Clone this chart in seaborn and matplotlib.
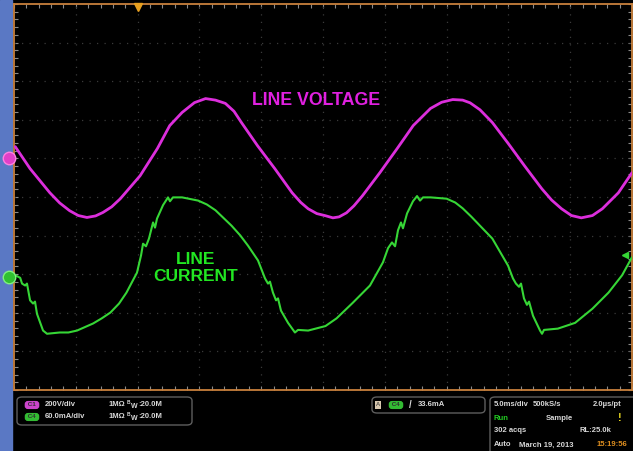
import matplotlib
matplotlib.use("Agg")
import matplotlib.pyplot as plt
import matplotlib.transforms as mtransforms
from matplotlib.patches import Rectangle, FancyBboxPatch
import numpy as np
import pandas as pd
import seaborn as sns

# ch1: line voltage (ms, V)
volt_t = [-24.9, -23.7, -22.1, -21.3, -20.5, -19.8, -19.1, -18.4, -17.8, -17.1,
          -16.4, -14.8, -13.4, -12.4, -11.4, -10.4, -9.5, -8.7, -7.9, -7.2,
          -6.6, -5.3, -3.9, -2.5, -1.8, -1.2, -0.5, 0.2, 0.8, 1.3,
          1.9, 2.5, 3.2, 4.6, 6.0, 7.3, 8.7, 9.6, 10.5, 11.3,
          11.9, 12.7, 13.7, 15.0, 16.3, 17.7, 18.5, 19.3, 20.1, 20.9,
          21.8, 22.6, 23.9, 25.0]
volt_v = [57, -57, -182, -235, -275, -300, -310, -302, -284, -255,
          -213, -94, 47, 166, 234, 285, 306, 298, 281, 240,
          182, 62, -57, -182, -232, -265, -290, -301, -312, -307,
          -286, -250, -197, -78, 47, 166, 255, 287, 301, 298,
          284, 248, 182, 72, -42, -161, -220, -265, -300, -312,
          -300, -265, -182, -78]

# ch4: line current (ms, mA)
curr_t = [-24.9, -24.5, -24.35, -24.1, -23.95, -23.7, -23.46, -23.3, -23.14, -22.65,
          -22.33, -21.3, -20.6, -19.9, -18.6, -17.9, -17.2, -16.5, -15.9, -15.05,
          -14.72, -14.56, -14.32, -14.08, -13.75, -13.59, -13.43, -12.94, -12.54, -12.38,
          -12.14, -11.4, -10.1, -9.4, -8.7, -7.4, -6.7, -6.07, -5.26, -4.69,
          -4.45, -4.29, -4.05, -3.8, -3.64, -3.4, -2.83, -2.27, -2.02, -1.2,
          0.2, 1.1, 2.4, 3.8, 4.85, 5.26, 5.58, 5.83, 6.07, 6.31,
          6.47, 6.8, 7.28, 7.61, 7.85, 8.09, 8.7, 10.0, 10.7, 11.3,
          12.0, 12.7, 13.7, 14.97, 15.37, 15.61, 15.86, 16.02, 16.26, 16.5,
          16.67, 16.99, 17.56, 17.72, 17.88, 19.0, 20.4, 21.8, 23.1, 24.2,
          25.0]
curr_ma = [2, -2, -11, -14, -11, -37, -42, -39, -58, -84,
           -89, -87, -87, -84, -73, -65, -56, -42, -25, 6,
           33, 51, 47, 59, 84, 76, 90, 111, 123, 117,
           123, 123, 118, 112, 103, 79, 64, 48, 25, -3,
           -11, -8, -25, -37, -34, -53, -72, -87, -83, -84,
           -77, -65, -41, -14, 22, 44, 53, 47, 72, 84,
           75, 98, 117, 125, 118, 123, 123, 121, 115, 106,
           93, 79, 59, 17, -3, -11, -16, -11, -34, -44,
           -39, -61, -84, -89, -83, -81, -72, -50, -25, 2,
           30]

V_PER_DIV = 200
MA_PER_DIV = 60
V_POS = 1.02
I_POS = -2.06
TRIG_MA = 33.6

sns.set_style("dark")
plt.rcParams['font.family'] = ['Liberation Sans', 'DejaVu Sans']

W, H = 633, 451
def fx(x): return x / W
def fy(y): return 1 - y / H

fig = plt.figure(figsize=(W / 100, H / 100), dpi=100, facecolor='black')
fig.add_artist(Rectangle((0, 0), fx(12), 1, transform=fig.transFigure,
                         color='#5a78c4', zorder=0))

ax = fig.add_axes([fx(14), fy(390), (632 - 14) / W, (390 - 4) / H])
ax.set_facecolor('black')
ax.set_xlim(-25, 25)
ax.set_ylim(-5, 5)

# graticule
for k in range(-4, 5):
    ax.axvline(k * 5, color='#3a3a3a', lw=0.9, ls=(0, (1, 5)), zorder=1)
    ax.axhline(k, color='#3a3a3a', lw=0.9, ls=(0, (1, 5)), zorder=1)
ax.grid(False)
ax.set_xticks(np.arange(-25, 25.01, 1))
ax.set_yticks(np.arange(-5, 5.01, 0.2))
ax.set_xticklabels([])
ax.set_yticklabels([])
ax.tick_params(direction='in', length=3, width=0.8, color='#8a8a8a',
               top=True, right=True, bottom=True, left=True)
for s in ax.spines.values():
    s.set_color('#c8803c')
    s.set_linewidth(1.3)

dv = pd.DataFrame({'t': volt_t, 'div': np.array(volt_v) / V_PER_DIV + V_POS})
di = pd.DataFrame({'t': curr_t, 'div': np.array(curr_ma) / MA_PER_DIV + I_POS})
sns.lineplot(data=dv, x='t', y='div', ax=ax, color='#dc2edc', lw=2.0,
             sort=False, estimator=None, zorder=3)
sns.lineplot(data=di, x='t', y='div', ax=ax, color='#36d636', lw=1.5,
             sort=False, estimator=None, zorder=3)
ax.set_xlabel('')
ax.set_ylabel('')

ax.text(-0.6, 2.49, 'LINE VOLTAGE', color='#e020e0', fontsize=12.8,
        fontweight='bold', ha='center', va='center')
ax.text(-10.3, -1.83, 'LINE\nCURRENT', color='#22e622', fontsize=12.5,
        fontweight='bold', ha='center', va='center', linespacing=1.15,
        multialignment='center')

# channel ground markers, trigger position and level
bl = mtransforms.blended_transform_factory(ax.transAxes, ax.transData)
ax.plot([-0.008], [V_POS], 'o', ms=9, color='#e040c8', mec='#ff80e0',
        transform=bl, clip_on=False, zorder=5)
ax.plot([-0.008], [I_POS], 'o', ms=9, color='#30c030', mec='#80f080',
        transform=bl, clip_on=False, zorder=5)
ax.plot([0.989], [I_POS + TRIG_MA / MA_PER_DIV], '<', ms=4, color='#36d636',
        transform=bl, clip_on=False, zorder=5)
bt = mtransforms.blended_transform_factory(ax.transData, ax.transAxes)
ax.plot([-15], [0.993], 'v', ms=6, color='#e8a020', transform=bt,
        clip_on=False, zorder=5)

# status bar
def box(x0, y0, x1, y1):
    fig.add_artist(FancyBboxPatch((fx(x0), fy(y1)), fx(x1 - x0), (y1 - y0) / H,
                                  boxstyle='round,pad=0,rounding_size=0.008',
                                  transform=fig.transFigure, fc='black',
                                  ec='#5e5e5e', lw=1.0))

box(17, 397, 192, 425)
box(372, 397, 485, 413)
box(490, 397, 640, 460)

TXT = dict(color='#d8d8d8', fontsize=5.5, fontweight='bold', va='center')

def label(x, y, s, **kw):
    d = dict(TXT)
    d.update(kw)
    fig.text(fx(x), fy(y), s, **d)

def pill(x, y, s, fc):
    fig.text(fx(x), fy(y), s, fontsize=4.5, color='#303030', ha='center',
             va='center', fontweight='bold',
             bbox=dict(boxstyle='round,pad=0.25,rounding_size=0.5', fc=fc, ec='none'))

pill(32, 405, ' C1 ', '#cc44cc')
label(45, 405, '200V/div')
label(109, 405, '1MΩ')
label(127, 402, 'B', fontsize=3.5)
label(131, 407, 'W', fontsize=5)
label(138, 405, ':20.0M')
pill(32, 417, ' C4 ', '#33bb33')
label(45, 417, '60.0mA/div')
label(109, 417, '1MΩ')
label(127, 414, 'B', fontsize=3.5)
label(131, 419, 'W', fontsize=5)
label(138, 417, ':20.0M')

fig.text(fx(378), fy(405), 'A', fontsize=4.5, color='#303030', ha='center',
         va='center', bbox=dict(boxstyle='square,pad=0.2', fc='#d8c8b0', ec='none'))
pill(396, 405, ' C4 ', '#33bb33')
label(409, 405, '/', fontsize=7)
label(418, 405, '33.6mA')

label(494, 405, '5.0ms/div')
label(533, 405, '500kS/s')
label(593, 405, '2.0µs/pt')
label(494, 418, 'Run', color='#22cc22')
label(546, 418, 'Sample')
label(618, 418, '!', color='#e8d820', fontsize=8)
label(494, 431, '302 acqs')
label(580, 431, 'RL:25.0k')
label(494, 445, 'Auto')
label(519, 445, 'March 19, 2013')
label(597, 445, '15:19:56', color='#e09020')

fig.savefig('out.png', dpi=100, facecolor='black')
